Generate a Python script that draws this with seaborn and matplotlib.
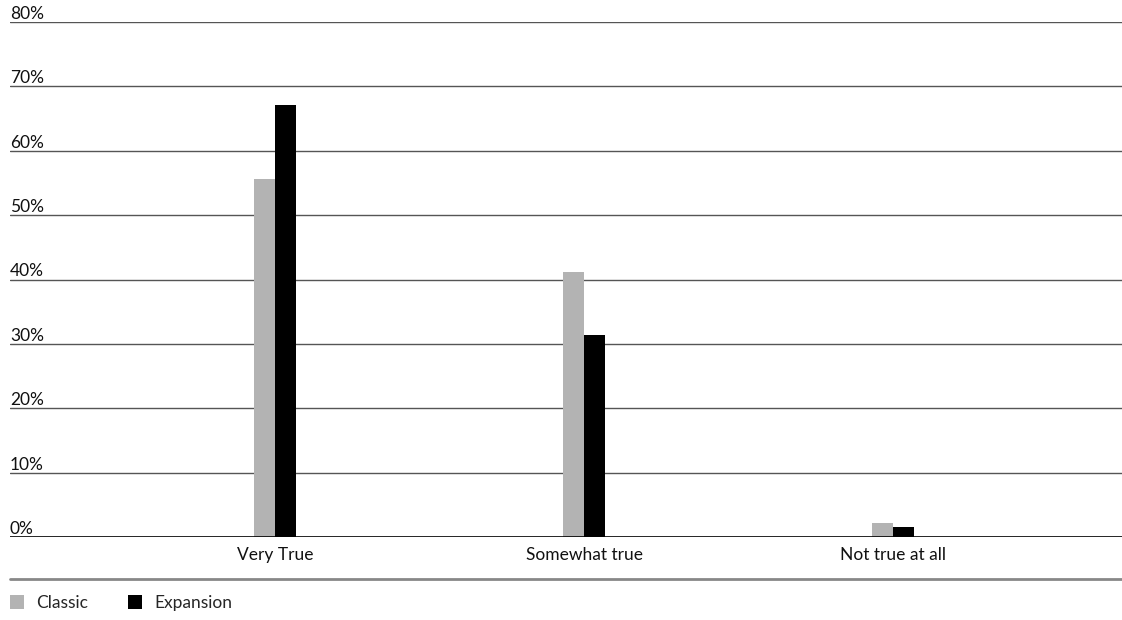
"""Recreate grouped bar chart: Classic vs Expansion."""

import matplotlib

matplotlib.use("Agg")
import matplotlib.pyplot as plt
import pandas as pd
import seaborn as sns
from matplotlib.lines import Line2D
from matplotlib.patches import Patch

CATEGORIES = ["Very True", "Somewhat true", "Not true at all"]
SERIES = ["Classic", "Expansion"]
CLASSIC = [55.6, 41.1, 2.2]
EXPANSION = [67.1, 31.4, 1.6]
Y_TICKS = [0, 10, 20, 30, 40, 50, 60, 70, 80]
COLORS = {"Classic": "#b3b3b3", "Expansion": "#000000"}

sns.set_theme(style="white")
plt.rcParams["font.family"] = ["Lato", "DejaVu Sans"]
FS = 12.5

df = pd.DataFrame(
    {
        "category": CATEGORIES * 2,
        "series": [SERIES[0]] * 3 + [SERIES[1]] * 3,
        "value": CLASSIC + EXPANSION,
    }
)

fig = plt.figure(figsize=(11.22, 6.2), dpi=100)
ax = fig.add_axes([10 / 1122, 83 / 620, 1112 / 1122, 515 / 620])

for t in Y_TICKS[1:]:
    ax.axhline(t, color="#555555", linewidth=1.0, zorder=0)
ax.axhline(0, color="#000000", linewidth=1.2, zorder=3)

sns.barplot(
    data=df,
    x="category",
    y="value",
    hue="series",
    order=CATEGORIES,
    hue_order=SERIES,
    palette=COLORS,
    width=0.136,
    saturation=1,
    linewidth=0,
    ax=ax,
    zorder=2,
)
ax.get_legend().remove()

ax.set_ylim(0, 80)
ax.set_xlim(-0.858, 2.741)
ax.set_yticks([])
ax.set_xlabel("")
ax.set_ylabel("")
ax.tick_params(axis="x", length=0, pad=7, labelsize=FS, labelcolor="#111111")
for s in ax.spines.values():
    s.set_visible(False)

for t in Y_TICKS:
    ax.text(
        0,
        t,
        f"{t}%",
        transform=ax.get_yaxis_transform(),
        ha="left",
        va="bottom",
        fontsize=FS,
        color="#111111",
    )

fig.add_artist(
    Line2D([10 / 1122, 1.0], [1 - 579 / 620] * 2, color="#888888", linewidth=2)
)

handles = [Patch(facecolor=COLORS[s], edgecolor="none") for s in SERIES]
fig.legend(
    handles,
    SERIES,
    loc="center left",
    bbox_to_anchor=(0.0, 1 - 603 / 620),
    ncol=2,
    frameon=False,
    handlelength=0.8,
    handleheight=0.8,
    handletextpad=0.7,
    columnspacing=2.3,
    fontsize=FS,
    borderaxespad=0.2,
)

fig.savefig("out.png", dpi=100)
